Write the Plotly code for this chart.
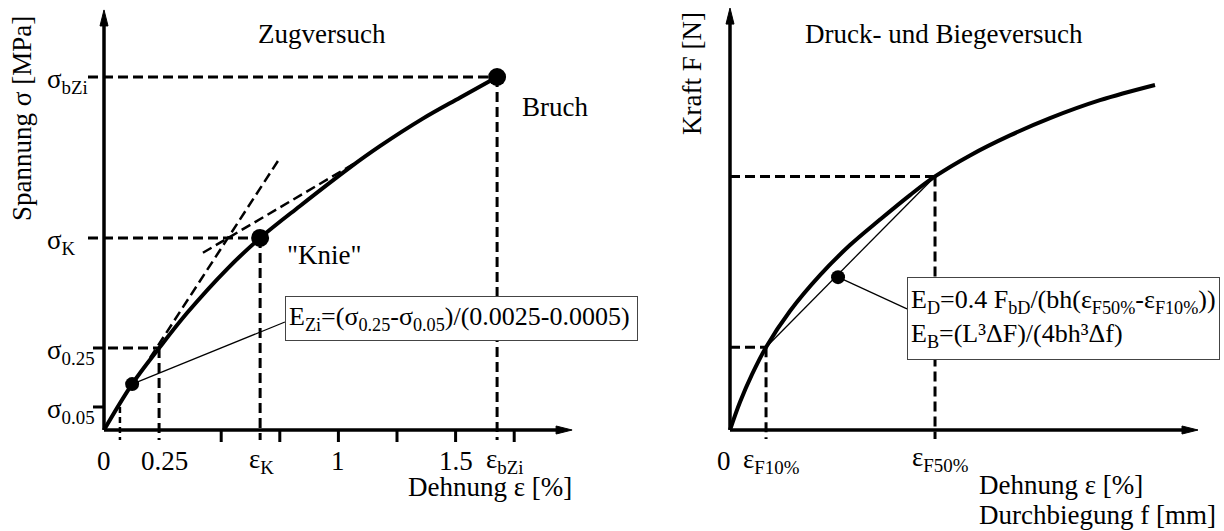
import plotly.graph_objects as go

FONT = "Liberation Serif, Times New Roman, serif"
FS = 27

# ---------------- Left panel: Zugversuch (strain % / stress MPa) ----------------
eps_curve = [0, 0.12, 0.235, 0.355, 0.525, 0.666, 0.835, 1.05, 1.177, 1.36, 1.52, 1.677]
sigma_curve = [0, 6.5, 11.6, 16.6, 22.8, 27.2, 31.7, 37.2, 40.2, 44.1, 47.1, 50.0]
eps_points = [0.12, 0.666, 1.677]
sigma_points = [6.5, 27.2, 50.0]
point_sizes = [14, 18, 18]
eps_ticks = [0.5, 0.75, 1.0, 1.25, 1.5, 1.75]
eps_label_pos = [0, 0.26, 0.674, 1.0, 1.5, 1.71]
eps_labels = ["0", "0.25", "ε<sub>K</sub>", "1", "1.5", "ε<sub>bZi</sub>"]
sigma_levels = [50.0, 27.2, 11.6, 3.26]
sigma_labels = ["σ<sub>bZi</sub>", "σ<sub>K</sub>", "σ<sub>0.25</sub>", "σ<sub>0.05</sub>"]
eps_005, eps_025, eps_K, eps_bZi = 0.068, 0.235, 0.666, 1.677
sig_005, sig_025, sig_K, sig_bZi = 3.26, 11.6, 27.2, 50.0
tangent1_eps, tangent1_sigma = [0.196, 0.742], [10.2, 38.1]
tangent2_eps, tangent2_sigma = [0.422, 1.071], [25.1, 37.8]
eps_axis_end, sigma_axis_end = 1.997, 59.5
left_conn_eps, left_conn_sigma = [0.12, 0.772], [6.5, 15.3]

# ---------------- Right panel: Druck- und Biegeversuch ----------------
u_curve = [0, 0.118, 0.259, 0.424, 0.706, 1.059, 1.412, 1.765, 2.118, 2.412, 2.824, 3.294, 3.765, 4.353, 5.0]
F_curve = [0, 8.1, 16.1, 24.0, 34.5, 44.9, 53.6, 61.0, 68.1, 73.5, 79.6, 85.4, 90.4, 95.6, 100.0]
u_F10, F10 = 0.424, 24.0
u_F50, F50 = 2.412, 73.5
u_point, F_point = 1.271, 44.3
right_conn_u, right_conn_F = [1.271, 2.082], [44.3, 35.1]
u_axis_end, F_axis_end = 5.506, 122.3

# pixel scales (px per data unit) of the two panels
SX_L, SY_L = 234.4, 7.06
SX_R, SY_R = 85.0, 3.45

fig = go.Figure()

def line(x, y, xa, ya, width=3, dash=None, color="black", shape="linear"):
    fig.add_trace(go.Scatter(x=x, y=y, mode="lines", xaxis=xa, yaxis=ya,
                             line=dict(color=color, width=width, dash=dash, shape=shape),
                             hoverinfo="skip", showlegend=False))

DASH = "10px,5px"

# ---- left dashed guides
ext_L = -10 / SY_L
line([-16 / SX_L, eps_bZi], [sig_bZi, sig_bZi], "x", "y", dash=DASH)
line([eps_bZi, eps_bZi], [sig_bZi, ext_L], "x", "y", dash=DASH)
line([-16 / SX_L, eps_K], [sig_K, sig_K], "x", "y", dash=DASH)
line([eps_K, eps_K], [sig_K, ext_L], "x", "y", dash=DASH)
line([-11 / SX_L, eps_025], [sig_025, sig_025], "x", "y", dash=DASH)
line([eps_025, eps_025], [sig_025, ext_L], "x", "y", dash=DASH)
line([-11 / SX_L, 0], [sig_005, sig_005], "x", "y", width=3)
line([eps_005, eps_005], [sig_005, ext_L], "x", "y", dash="6px,4px", width=2.5)
line(tangent1_eps, tangent1_sigma, "x", "y", dash=DASH, width=2.5)
line(tangent2_eps, tangent2_sigma, "x", "y", dash=DASH, width=2.5)

# ---- left axes
line([0, 0], [0, sigma_axis_end - 8 / SY_L], "x", "y", width=3.5)
line([0, eps_axis_end - 8 / SX_L], [0, 0], "x", "y", width=3.5)
tx, ty = [], []
for e in eps_ticks:
    tx += [e, e, None]
    ty += [0, -12 / SY_L, None]
line(tx, ty, "x", "y", width=3)

# ---- left curve, connector, markers
line(eps_curve, sigma_curve, "x", "y", width=4, shape="spline")
line(left_conn_eps, left_conn_sigma, "x", "y", width=1.2)
fig.add_trace(go.Scatter(x=eps_points, y=sigma_points, mode="markers", xaxis="x", yaxis="y",
                         marker=dict(color="black", size=point_sizes, opacity=1,
                                     line=dict(width=0)),
                         hoverinfo="skip", showlegend=False))

# ---- right dashed guides
ext_R = -9 / SY_R
line([0, u_F10], [F10, F10], "x2", "y2", dash=DASH)
line([u_F10, u_F10], [F10, ext_R], "x2", "y2", dash=DASH)
line([0, u_F50], [F50, F50], "x2", "y2", dash=DASH)
line([u_F50, u_F50], [F50, ext_R], "x2", "y2", dash=DASH)
line([u_F10, u_F50], [F10, F50], "x2", "y2", width=1.3)

# ---- right axes
line([0, 0], [0, F_axis_end - 8 / SY_R], "x2", "y2", width=3.5)
line([0, u_axis_end - 8 / SX_R], [0, 0], "x2", "y2", width=3.5)

line(u_curve, F_curve, "x2", "y2", width=4, shape="spline")
line(right_conn_u, right_conn_F, "x2", "y2", width=1.2)
fig.add_trace(go.Scatter(x=[u_point], y=[F_point], mode="markers", xaxis="x2", yaxis="y2",
                         marker=dict(color="black", size=14, opacity=1, line=dict(width=0)),
                         hoverinfo="skip", showlegend=False))

# ---- arrow heads
def arrow(xt, yt, up, sx, sy, xa, ya):
    L, H = 16, 4
    if up:
        xs = [xt, xt - H / sx, xt + H / sx, xt]
        ys = [yt, yt - L / sy, yt - L / sy, yt]
    else:
        xs = [xt, xt - L / sx, xt - L / sx, xt]
        ys = [yt, yt + H / sy, yt - H / sy, yt]
    fig.add_trace(go.Scatter(x=xs, y=ys, mode="lines", fill="toself", fillcolor="black",
                             line=dict(color="black", width=1), xaxis=xa, yaxis=ya,
                             hoverinfo="skip", showlegend=False))

arrow(0, sigma_axis_end, True, SX_L, SY_L, "x", "y")
arrow(eps_axis_end, 0, False, SX_L, SY_L, "x", "y")
arrow(0, F_axis_end, True, SX_R, SY_R, "x2", "y2")
arrow(u_axis_end, 0, False, SX_R, SY_R, "x2", "y2")

# ---------------- texts ----------------
ann = []
def text(t, x, y, xref, yref, size=FS, xanchor="center", yanchor="middle", angle=0, yshift=0, **kw):
    d = dict(text=t, x=x, y=y, xref=xref, yref=yref, showarrow=False,
             font=dict(family=FONT, size=size, color="black"),
             xanchor=xanchor, yanchor=yanchor, textangle=angle, yshift=yshift)
    d.update(kw)
    ann.append(d)

text("Zugversuch", 0.93, 56.1, "x", "y")
text("Bruch", 1.924, 45.75, "x", "y")
text("\"Knie\"", 0.939, 24.8, "x", "y")
text("Spannung σ [MPa]", -0.35, 44.2, "x", "y", angle=-90)
text("Dehnung ε [%]", 1.647, -8.1, "x", "y")
for p, lab in zip(eps_label_pos, eps_labels):
    text(lab, p, -4.4, "x", "y")
for s, lab in zip(sigma_levels, sigma_labels):
    text(lab, -0.252, s, "x", "y", xanchor="left", yshift=-4)
text("E<sub>Zi</sub>=(σ<sub>0.25</sub>-σ<sub>0.05</sub>)/(0.0025-0.0005)", 0.772, 15.79, "x", "y",
     size=26, xanchor="left", align="left", bgcolor="white", bordercolor="#444",
     borderwidth=1, borderpad=3, width=345, height=37, valign="middle")

text("Druck- und Biegeversuch", 2.518, 114.8, "x2", "y2")
text("Kraft F [N]", -0.447, 103.2, "x2", "y2", angle=-90)
text("0", -0.07, -9.0, "x2", "y2")
text("ε<sub>F10%</sub>", 0.494, -9.0, "x2", "y2")
text("ε<sub>F50%</sub>", 2.48, -8.4, "x2", "y2")
text("Dehnung ε [%]", 2.906, -15.94, "x2", "y2", xanchor="left")
text("Durchbiegung f [mm]", 2.906, -24.64, "x2", "y2", xanchor="left")
text("E<sub>D</sub>=0.4 F<sub>bD</sub>/(bh(ε<sub>F50%</sub>-ε<sub>F10%</sub>))<br>E<sub>B</sub>=(L³ΔF)/(4bh³Δf)",
     2.082, 44.35, "x2", "y2", size=26, xanchor="left", yanchor="top", align="left",
     bgcolor="white", bordercolor="#444", borderwidth=1, borderpad=3, width=305, height=75,
     valign="middle")

ax_common = dict(visible=False, fixedrange=True)
fig.update_layout(
    width=1224, height=531,
    margin=dict(l=0, r=0, t=0, b=0),
    paper_bgcolor="white", plot_bgcolor="white",
    showlegend=False,
    xaxis=dict(domain=[0, 0.5], range=[-104 / SX_L, 508 / SX_L], anchor="y", **ax_common),
    yaxis=dict(domain=[0, 1], range=[-101 / SY_L, 430 / SY_L], anchor="x", **ax_common),
    xaxis2=dict(domain=[0.5, 1], range=[-118 / SX_R, 494 / SX_R], anchor="y2", **ax_common),
    yaxis2=dict(domain=[0, 1], range=[-101 / SY_R, 430 / SY_R], anchor="x2", **ax_common),
    annotations=ann,
)

fig.write_html("out.html", config={"displayModeBar": False},
               post_script="document.body.style.margin='0';document.body.style.overflow='hidden';")
